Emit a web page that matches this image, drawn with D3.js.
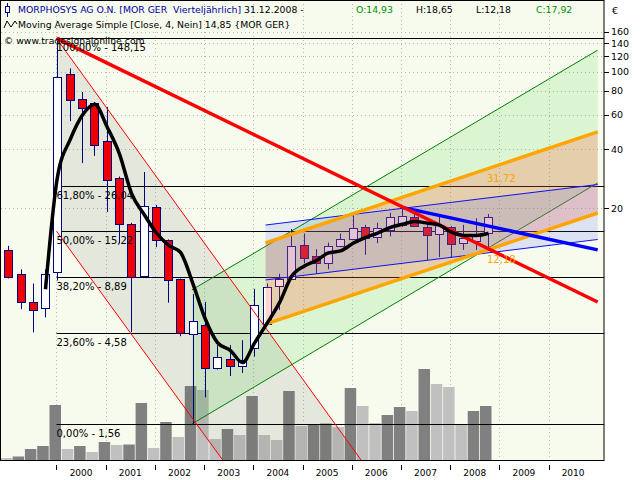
<!DOCTYPE html>
<html><head><meta charset="utf-8">
<script src="https://cdn.jsdelivr.net/npm/d3@7/dist/d3.min.js"></script>
<style>
body{margin:0;background:#fff}
svg{display:block}
text{font-family:"DejaVu Sans",Verdana,sans-serif;white-space:pre}
</style>
</head><body>
<svg id="c" width="640" height="480"></svg>
<script>
// ---------- data ----------
const quarters = ["1999 Q1","1999 Q2","1999 Q3","1999 Q4","2000 Q1","2000 Q2","2000 Q3","2000 Q4",
  "2001 Q1","2001 Q2","2001 Q3","2001 Q4","2002 Q1","2002 Q2","2002 Q3","2002 Q4",
  "2003 Q1","2003 Q2","2003 Q3","2003 Q4","2004 Q1","2004 Q2","2004 Q3","2004 Q4",
  "2005 Q1","2005 Q2","2005 Q3","2005 Q4","2006 Q1","2006 Q2","2006 Q3","2006 Q4",
  "2007 Q1","2007 Q2","2007 Q3","2007 Q4","2008 Q1","2008 Q2","2008 Q3","2008 Q4"];
const openP  = [12.2,9.18,6.6,6.14, 9.4,97,72.4,69, 44.1,28.5,16.5,8.96, 20.2,13.7,8.63,4.52,
  5.02,3.03,3.38,3.1, 3.84,5.08,7.96,8.65, 12.9,11.4,10.5,12.7, 13.9,16.0,14.2,15.4,
  16.4,18.0,16.0,14.7, 16.0,13.2,13.5,14.93];
const highP  = [12.8,9.7,8.2,9.7, 148.15,104,78.7,70, 66,29,16.8,30.6, 20.7,13.8,8.7,7.24,
  6.6,3.96,3.96,4.2, 7.7,8.2,9.2,15.6, 14.8,12.3,13.3,14.8, 18.4,16.4,16.8,18.9,
  20.7,18.8,16.3,18.1, 16.2,16.4,17.7,18.65];
const lowP   = [8.7,6.06,4.6,5.5, 8.5,55.8,34,37, 19.1,13.2,4.62,8.9, 12.6,6.54,4.4,1.56,
  2.14,2.97,2.75,2.85, 3.46,5.0,6.0,8.6, 10.4,9.2,9.7,12.6, 13.8,11.5,13.2,14.3,
  16.0,16.0,10.8,11.2, 11.2,12.2,12.2,12.18];
const closeP = [8.85,6.6,6.0,9.2, 94,71.6,65,42, 27.8,16.5,8.85,20.5, 13.7,8.55,4.57,5.29,
  3.03,3.44,3.1,3.32, 6.37,7.87,8.6,12.8, 11.1,10.5,12.7,13.9, 15.8,14.0,15.8,18.0,
  18.2,16.2,14.5,16.4, 13.0,14.0,14.5,17.92];
const volume = [40,70,220,280, 1100,220,280,160, 360,300,310,1140, 240,760,460,1480,
  1400,420,620,500, 1280,500,400,1380, 680,720,730,660, 1440,1080,740,900,
  1060,980,1820,1520, 1460,720,980,1080];
const yearLabels = [2000,2001,2002,2003,2004,2005,2006,2007,2008,2009,2010];
const priceTicks = [160,140,120,100,80,60,40,20];
const fibPct    = ["100,00%","61,80%","50,00%","38,20%","23,60%","0,00%"];
const fibPrice  = [148.15,26.04,15.22,8.89,4.58,1.56];
const maPeriod = 4;
const headerOHLC = [["O:14,93","#009000"],["H:18,65","#000"],["L:12,18","#000"],["C:17,92","#009000"]];
// drawing tools: [date, price] anchor pairs
const redTrend   = [[2000.0,148.15],[2011.0,6.59]];
const redChanA   = [[2000.0,148.15],[2004.0,5.94]];
const redChanB   = [[2000.0,15.22],[2004.0,0.62]];
const greenUpper = [[2002.75,7.6],[2011.0,129]];
const greenLower = [[2002.75,1.56],[2011.0,26.9]];
const orangeUpper= [[2004.25,13.23],[2008.75,31.72]];
const orangeLower= [[2004.25,5.08],[2008.75,12.18]];
const blueUpper  = [[2004.25,16.36],[2011.0,26.39]];
const blueLower  = [[2004.25,8.55],[2011.0,13.79]];
const blueTrend  = [[2007.0,20.2],[2011.0,12.2]];
const channelEnd = 2011.0;

// ---------- scales ----------
const svg = d3.select("#c");
const L = 1, R = 604, T = 0, B = 460;
const x = d3.scaleLinear().domain([1998.872, 2011.128]).range([L, R]);
const y = d3.scaleLog().domain([1.0203, 233.2]).range([B, T]);
const vy = d3.scaleLinear().domain([0, 2000]).range([B, B - 100]);
const qDate = s => { const [yr, q] = s.split(" Q"); return +yr + (+q - 1) / 4; };
const dates = quarters.map(qDate);
const data = dates.map((d, i) => ({d, o: openP[i], h: highP[i], l: lowP[i], c: closeP[i], v: volume[i], i}));

svg.append("rect").attr("width", 640).attr("height", 480).attr("fill", "#fff");
svg.append("defs").append("clipPath").attr("id", "pc").append("rect")
  .attr("x", L).attr("y", T).attr("width", R - L).attr("height", B - T);
svg.append("rect").attr("x", L).attr("y", T).attr("width", R - L).attr("height", B - T).attr("fill", "#f7fbee");

const g = svg.append("g").attr("clip-path", "url(#pc)");

// grid
g.selectAll(".vg").data(yearLabels).join("line")
  .attr("x1", d => Math.round(x(d)) + 0.5).attr("x2", d => Math.round(x(d)) + 0.5)
  .attr("y1", T).attr("y2", B).attr("stroke", "#b8b8b8").attr("stroke-dasharray", "1,3");
g.selectAll(".hg").data(priceTicks).join("line")
  .attr("x1", L).attr("x2", R)
  .attr("y1", d => Math.round(y(d)) + 0.5).attr("y2", d => Math.round(y(d)) + 0.5)
  .attr("stroke", "#b8b8b8").attr("stroke-dasharray", "1,3");

// volume
g.selectAll(".vol").data(data).join("rect")
  .attr("x", d => x(d.d) - 7).attr("width", 11.5)
  .attr("y", d => vy(d.v)).attr("height", d => B - vy(d.v))
  .attr("fill", (d, i) => (i > 0 && d.v > volume[i - 1]) ? "#808080" : "#c0c0c0");

// helpers for drawing tools
const px = p => [x(p[0]), y(p[1])];
function ext(line, xEnd) {
  const [a, b] = line.map(px);
  const s = (b[1] - a[1]) / (b[0] - a[0]);
  return [a, [xEnd, a[1] + s * (xEnd - a[0])]];
}
const xe = x(channelEnd);
function poly(upper, lower, xEnd) {
  const u = ext(upper, xEnd), l = ext(lower, xEnd);
  return [u[0], u[1], l[1], l[0]];
}
const lineGen = d3.line();

// grey channel
g.append("path").attr("d", lineGen(poly(redChanA, redChanB, 500)) + "Z")
  .attr("fill", "rgba(100,100,90,0.13)");
// green channel
g.append("path").attr("d", lineGen(poly(greenUpper, greenLower, xe)) + "Z")
  .attr("fill", "rgba(0,200,0,0.11)");

// fib lines
g.selectAll(".fib").data(fibPrice).join("line")
  .attr("x1", x(2000.0)).attr("x2", R)
  .attr("y1", d => Math.round(y(d)) + 0.5).attr("y2", d => Math.round(y(d)) + 0.5)
  .attr("stroke", "#000").attr("stroke-width", 1);

// green lines
[greenUpper, greenLower].forEach(l => {
  g.append("path").attr("d", lineGen(ext(l, xe))).attr("stroke", "#008000").attr("fill", "none");
});

// candles
const cx = d => Math.round(x(d.d)) + 1;
const cg = g.append("g");
cg.selectAll(".wick").data(data).join("line")
  .attr("x1", d => cx(d) + 0.5).attr("x2", d => cx(d) + 0.5)
  .attr("y1", d => y(d.h)).attr("y2", d => y(d.l)).attr("stroke", "#000080");
cg.selectAll(".body").data(data).join("rect")
  .attr("x", d => cx(d) - 3.5).attr("width", 8)
  .attr("y", d => Math.round(y(Math.max(d.o, d.c))) + 0.5)
  .attr("height", d => Math.max(1, Math.round(y(Math.min(d.o, d.c))) - Math.round(y(Math.max(d.o, d.c)))))
  .attr("fill", d => d.c >= d.o ? "#ffffff" : "#ee0000")
  .attr("stroke", "#000080");

// orange & blue fills
g.append("path").attr("d", lineGen(poly(orangeUpper, orangeLower, xe)) + "Z")
  .attr("fill", "rgba(255,95,60,0.26)");
g.append("path").attr("d", lineGen(poly(blueUpper, blueLower, xe)) + "Z")
  .attr("fill", "rgba(70,90,255,0.15)");

// thin lines
[redChanA, redChanB].forEach(l => {
  g.append("path").attr("d", lineGen(ext(l, 500))).attr("stroke", "#ff0000").attr("fill", "none");
});
[blueUpper, blueLower].forEach(l => {
  g.append("path").attr("d", lineGen(ext(l, xe))).attr("stroke", "#1010ee").attr("fill", "none");
});
// thick lines
[orangeUpper, orangeLower].forEach(l => {
  g.append("path").attr("d", lineGen(ext(l, xe))).attr("stroke", "#ffa500").attr("stroke-width", 3.5).attr("fill", "none");
});
g.append("path").attr("d", lineGen(ext(blueTrend, xe))).attr("stroke", "#0000ff").attr("stroke-width", 3.5).attr("fill", "none");
g.append("path").attr("d", lineGen(ext(redTrend, xe))).attr("stroke", "#ff0000").attr("stroke-width", 3.5).attr("fill", "none");

// moving average
const ma = data.map((d, i) => i < maPeriod - 1 ? null :
  [cx(d) + 0.5, y(d3.mean(closeP.slice(i - maPeriod + 1, i + 1)))]).filter(Boolean);
g.append("path").attr("d", d3.line().curve(d3.curveMonotoneX)(ma))
  .attr("stroke", "#000").attr("stroke-width", 3.5).attr("fill", "none").attr("stroke-linejoin", "round");

// fib labels
g.selectAll(".fibl").data(fibPrice).join("text")
  .attr("x", x(2000.0)).attr("y", d => Math.round(y(d)) + 13)
  .attr("font-size", 10).attr("fill", "#000")
  .text((d, i) => fibPct[i] + " - " + d.toFixed(2).replace(".", ","));

// orange value labels
const lastD = dates[dates.length - 1];
function valAt(line, d) {
  const [a, b] = line; const t = (d - a[0]) / (b[0] - a[0]);
  return Math.pow(10, Math.log10(a[1]) + t * (Math.log10(b[1]) - Math.log10(a[1])));
}
[orangeUpper, orangeLower].forEach(l => {
  const v = valAt(l, lastD);
  g.append("text").attr("x", x(lastD)).attr("y", y(v) + 13)
    .attr("font-size", 10).attr("fill", "#ffa500").text(v.toFixed(2).replace(".", ","));
});

// plot border
svg.append("rect").attr("x", L - 0.5).attr("y", T + 0.5).attr("width", R - L + 0.5).attr("height", B - T)
  .attr("fill", "none").attr("stroke", "#000");

// right axis
svg.selectAll(".yt").data(priceTicks).join("line")
  .attr("x1", R).attr("x2", R + 5)
  .attr("y1", d => Math.round(y(d)) + 0.5).attr("y2", d => Math.round(y(d)) + 0.5).attr("stroke", "#000");
svg.selectAll(".yl").data(priceTicks).join("text")
  .attr("x", R + 7).attr("y", d => y(d) + 3.5).attr("font-size", 9.5).attr("fill", "#000").text(d => d);
svg.append("text").attr("x", R + 8).attr("y", 14).attr("font-size", 9.5).text("€");

// bottom axis
svg.selectAll(".xt").data(yearLabels).join("line")
  .attr("x1", d => Math.round(x(d)) + 0.5).attr("x2", d => Math.round(x(d)) + 0.5)
  .attr("y1", 465).attr("y2", 470).attr("stroke", "#000");
svg.selectAll(".xl").data(yearLabels).join("text")
  .attr("x", d => x(d + 0.5)).attr("y", 476).attr("text-anchor", "middle")
  .attr("font-size", 9).text(d => d);

// header
const hf = 9.3;
const h1 = svg.append("text").attr("x", 18).attr("y", 13).attr("font-size", hf);
h1.append("tspan").attr("fill", "#0000a0").text("MORPHOSYS AG O.N. [MOR GER  Vierteljährlich] ");
h1.append("tspan").attr("fill", "#000").text("31.12.2008 -");
headerOHLC.forEach((t, i) => {
  svg.append("text").attr("x", 356 + i * 60).attr("y", 13).attr("font-size", hf)
    .attr("fill", t[1]).text(t[0]);
});
svg.append("line").attr("x1", 7.5).attr("x2", 7.5).attr("y1", 3).attr("y2", 17).attr("stroke", "#0000a0");
svg.append("rect").attr("x", 5.5).attr("y", 6.5).attr("width", 4).attr("height", 6).attr("fill", "#fff").attr("stroke", "#0000a0");
svg.append("text").attr("x", 18).attr("y", 28).attr("font-size", hf).text("Moving Average Simple [Close, 4, Nein] 14,85 {MOR GER}");
svg.append("path").attr("d", "M4,28 L7,21 L11,27 L15,21 L17,24").attr("stroke", "#000").attr("fill", "none");
svg.append("text").attr("x", 4).attr("y", 44).attr("font-size", hf).text("© www.tradesignalonline.com");
</script>
</body></html>
